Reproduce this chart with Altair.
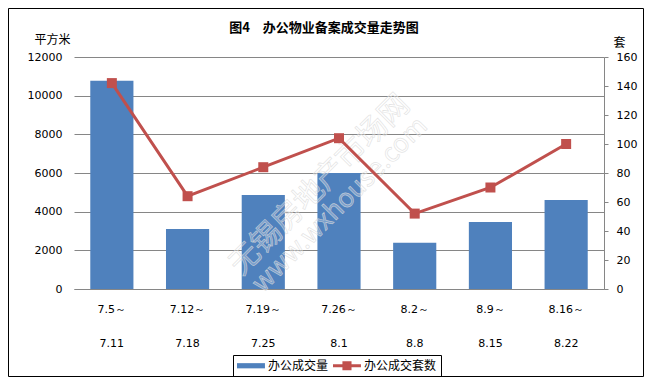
import altair as alt
import pandas as pd

# ---------------- data ----------------
period_start = ["7.5～", "7.12～", "7.19～", "7.26～", "8.2～", "8.9～", "8.16～"]
period_end = ["7.11", "7.18", "7.25", "8.1", "8.8", "8.15", "8.22"]
office_area = [10770, 3100, 4860, 6000, 2390, 3470, 4600]      # 办公成交量 (平方米)
office_units = [142, 64, 84, 104, 52, 70, 100]                  # 办公成交套数 (套)
series_names = ["办公成交量", "办公成交套数"]
left_ticks = [0, 2000, 4000, 6000, 8000, 10000, 12000]
right_ticks = [0, 20, 40, 60, 80, 100, 120, 140, 160]
title_text = "图4　办公物业备案成交量走势图"
watermark_texts = ["无锡房地产市场网", "www.wxhouse.com"]

periods = [f"{a}|{b}" for a, b in zip(period_start, period_end)]
df = pd.DataFrame({"period": periods, "area": office_area, "units": office_units})
legend_df = pd.DataFrame({"series": series_names})

BLUE = "#4F81BD"
RED = "#C0504D"
GRID = "#868686"
NUM_FONT = "DejaVu Sans"
CJK_FONT = "Noto Sans CJK SC"

W, H = 530, 232

x_enc = alt.X(
    "period:N",
    sort=periods,
    scale=alt.Scale(paddingInner=0.43, paddingOuter=0.215),
    axis=alt.Axis(
        title=None,
        labelExpr="split(datum.value, '|')",
        labelAngle=0,
        ticks=False,
        domainColor=GRID,
        domainWidth=1,
        labelFont=NUM_FONT,
        labelFontSize=11,
        labelColor="#000000",
        labelLineHeight=34,
        labelPadding=14,
    ),
)

bars = alt.Chart(df).mark_bar(color=BLUE).encode(
    x=x_enc,
    y=alt.Y(
        "area:Q",
        scale=alt.Scale(domain=[0, 12000], nice=False),
        axis=alt.Axis(
            values=left_ticks,
            format="d",
            title="平方米",
            titleAngle=0,
            titleX=-22,
            titleY=-18,
            titleAlign="center",
            titleBaseline="middle",
            titleFont=CJK_FONT,
            titleFontSize=12,
            titleFontWeight="normal",
            titleColor="#000000",
            domain=False,
            ticks=False,
            grid=True,
            gridColor=GRID,
            gridWidth=1,
            labelFont=NUM_FONT,
            labelFontSize=11,
            labelColor="#000000",
            labelPadding=12,
        ),
    ),
)

watermark_df = pd.DataFrame({"text": watermark_texts})
wm1 = alt.Chart(watermark_df.iloc[[0]]).mark_text(
    angle=315, font=CJK_FONT, fontSize=30, fill="#ffffff", fillOpacity=0.25,
    stroke="#dadada", strokeWidth=0.7, strokeOpacity=0.75,
).encode(text="text:N", x=alt.value(246), y=alt.value(128))
wm2 = alt.Chart(watermark_df.iloc[[1]]).mark_text(
    angle=315, font=CJK_FONT, fontSize=26, fill="#ffffff", fillOpacity=0.25,
    stroke="#dadada", strokeWidth=0.7, strokeOpacity=0.75,
).encode(text="text:N", x=alt.value(266), y=alt.value(148))

y_right = alt.Y(
    "units:Q",
    scale=alt.Scale(domain=[0, 160], nice=False),
    axis=alt.Axis(
        orient="right",
        values=right_ticks,
        format="d",
        title="套",
        titleAngle=0,
        titleX=15,
        titleY=-15,
        titleAlign="center",
        titleBaseline="middle",
        titleFont=CJK_FONT,
        titleFontSize=12,
        titleFontWeight="normal",
        titleColor="#000000",
        domain=True,
        domainColor=GRID,
        ticks=True,
        tickColor=GRID,
        tickSize=4,
        grid=False,
        labelFont=NUM_FONT,
        labelFontSize=11,
        labelColor="#000000",
        labelPadding=8,
    ),
)

line = alt.Chart(df).mark_line(color=RED, strokeWidth=3).encode(x=x_enc, y=y_right)
points = alt.Chart(df).mark_point(
    shape="square", filled=True, size=100, color=RED, opacity=1
).encode(x=x_enc, y=y_right)

# legend symbols: unit = 6.5px (symbolSize 169); drawn from the entry's left edge
bar_symbol = "M-1,-0.4H3.3V0.4H-1Z"
line_symbol = "M-1,-0.23H3.3V0.23H-1Z M0.45,-0.7H1.85V0.7H0.45Z"

legend_params = dict(
    title=None,
    orient="none",
    legendX=159,
    legendY=298,
    direction="horizontal",
    strokeColor="#000000",
    padding=4,
    symbolSize=169,
    symbolStrokeWidth=0,
    labelFont=CJK_FONT,
    labelFontSize=12,
    labelColor="#000000",
    labelOffset=18,
    columnPadding=4,
)

legend_layer = alt.Chart(legend_df).mark_point(filled=True, size=0, opacity=1).encode(
    color=alt.Color(
        "series:N",
        scale=alt.Scale(domain=series_names, range=[BLUE, RED]),
        legend=alt.Legend(**legend_params),
    ),
    shape=alt.Shape(
        "series:N",
        scale=alt.Scale(domain=series_names, range=[bar_symbol, line_symbol]),
        legend=alt.Legend(**legend_params),
    ),
)

frame_df = pd.DataFrame({"k": [0]})
frame = alt.Chart(frame_df).mark_rect(
    fill=None, stroke="#000000", strokeWidth=1
).encode(
    x=alt.value(-65.5), x2=alt.value(569.5), y=alt.value(-48.5), y2=alt.value(319.5)
)

left_layer = alt.layer(bars, wm1, wm2)
right_layer = alt.layer(line, points)

chart = (
    alt.layer(frame, left_layer, right_layer, legend_layer)
    .resolve_scale(y="independent")
    .properties(
        width=W,
        height=H,
        title=alt.TitleParams(
            text=title_text,
            anchor="middle",
            font=CJK_FONT,
            fontSize=13,
            fontWeight="bold",
            color="#000000",
            offset=0,
            dx=-15,
            dy=27,
        ),
        autosize=alt.AutoSizeParams(type="none"),
        padding={"left": 66, "top": 49, "right": 40, "bottom": 88},
        background="#ffffff",
    )
    .configure_view(stroke=None)
)

chart.save("out.html", embed_options={"renderer": "svg", "actions": False})
